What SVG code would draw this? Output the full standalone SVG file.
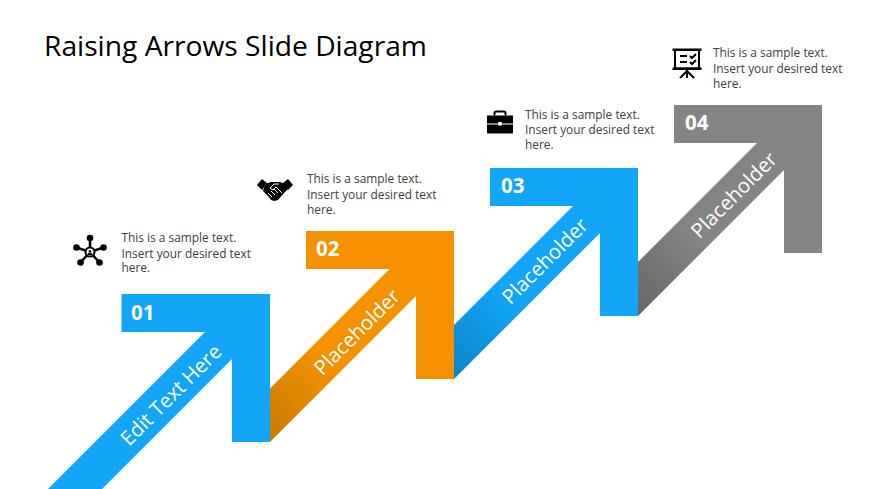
<svg xmlns="http://www.w3.org/2000/svg" width="870" height="489" viewBox="0 0 870 489">
<style>
text{font-family:"Open Sans","Noto Sans","Liberation Sans",sans-serif}
.title{font-size:28.200px;fill:#000}
.num{font-size:20.500px;font-weight:700;fill:#fff}
.lab{font-size:20.300px;fill:#fff;text-anchor:middle}
.desc{font-size:11.900px;fill:#404040}
.ic{fill:#000}
.ol{fill:none;stroke:#000;stroke-width:2}
</style>
<defs>
<linearGradient id="gO" gradientUnits="userSpaceOnUse" x1="270" y1="442" x2="340" y2="372"><stop offset="0" stop-color="#c67c00"/><stop offset="1" stop-color="#f59100"/></linearGradient>
<linearGradient id="gB" gradientUnits="userSpaceOnUse" x1="454" y1="379" x2="524" y2="309"><stop offset="0" stop-color="#0a85cc"/><stop offset="1" stop-color="#12a5f8"/></linearGradient>
<linearGradient id="gG" gradientUnits="userSpaceOnUse" x1="638" y1="316" x2="708" y2="246"><stop offset="0" stop-color="#666"/><stop offset="1" stop-color="#858585"/></linearGradient>
</defs>
<rect width="870" height="489" fill="#fff"/>
<text class="title" x="44" y="56">Raising Arrows Slide Diagram</text>
<g id="connectors"></g>
<g id="node-01">
<path d="M121.500 294H270V442H232V359L102 489H48L205 332H121.500Z" fill="#12a5f8"/>
<text class="num" x="131" y="320">01</text>
<text class="lab" transform="translate(176 400) rotate(-45)">Edit Text Here</text>
<g transform="translate(90 252)">
<g stroke="#000" stroke-width="2.500"><line x1="0" y1="0" x2="0" y2="-11"/><line x1="0" y1="0" x2="-12" y2="-4"/><line x1="0" y1="0" x2="12" y2="-4"/><line x1="0" y1="0" x2="-9" y2="10"/><line x1="0" y1="0" x2="9" y2="10"/></g>
<circle class="ic" cx="0" cy="-14" r="3.300"/><circle class="ic" cx="-13.500" cy="-4.500" r="3.300"/><circle class="ic" cx="13.500" cy="-4.500" r="3.300"/><circle class="ic" cx="-9.500" cy="10.500" r="3.300"/><circle class="ic" cx="9.500" cy="10.500" r="3.300"/>
<circle cx="0" cy="0" r="5.500" fill="#000"/><circle cx="0" cy="0" r="3.500" fill="#fff"/><circle cx="0" cy="-0.800" r="1.300" fill="#000"/><path d="M-2.500 3a2.500 2.500 0 0 1 5 0Z" fill="#000"/>
</g>
<text class="desc" x="121.500" y="242">This is a sample text.</text><text class="desc" x="121.500" y="258">Insert your desired text</text><text class="desc" x="121.500" y="272">here.</text>
</g>
<g id="node-02">
<path d="M270 388.500L389.500 269H306V231H454V379H416V296L270 442Z" fill="url(#gO)"/>
<text class="lab" transform="translate(362 337) rotate(-45)">Placeholder</text>
<text class="num" x="316" y="256">02</text>
<g transform="translate(275 190)">
<path class="ic" d="M-18 -5L-13 -11L-8 -7L-13 0Z"/><path class="ic" d="M18 -5L13 -11L8 -7L13 0Z"/>
<path class="ic" d="M-10 -6L-4 -8H5L10 -6L13 -1L9 3L3 10L-1 11L-4 10L-6 7L-12 1Z"/>
<path d="M-7 3L-3 7M-4 1L0 5M-1 -1L3 3M7 3L1 -3L-2 0L-5 -2L-1 -6H4" fill="none" stroke="#fff" stroke-width="1"/>
</g>
<text class="desc" x="307" y="183">This is a sample text.</text><text class="desc" x="307" y="199">Insert your desired text</text><text class="desc" x="307" y="214">here.</text>
</g>
<g id="node-03">
<path d="M454 325L573 206H490V168H638V316H600V233L454 379Z" fill="url(#gB)"/>
<text class="lab" transform="translate(550 266) rotate(-45)">Placeholder</text>
<text class="num" x="501" y="193">03</text>
<g transform="translate(500 122)">
<path class="ic" d="M-13 -6.500H13V10.500a1 1 0 0 1 -1 1H-12a1 1 0 0 1 -1 -1Z"/>
<path d="M-5.500 -6.500V-9a1.500 1.500 0 0 1 1.500 -1.500H4A1.500 1.500 0 0 1 5.500 -9V-6.500" fill="none" stroke="#000" stroke-width="2"/>
<rect x="-13" y="1.500" width="26" height="1" fill="#fff"/><rect x="-1.800" y="0" width="3.600" height="3.500" fill="#fff"/>
</g>
<text class="desc" x="525" y="119">This is a sample text.</text><text class="desc" x="525" y="134">Insert your desired text</text><text class="desc" x="525" y="149">here.</text>
</g>
<g id="node-04">
<path d="M638 262L757 143H674V105H822V253H784V170L638 316Z" fill="url(#gG)"/>
<text class="lab" transform="translate(739 200) rotate(-45)">Placeholder</text>
<text class="num" x="685" y="130">04</text>
<g transform="translate(687 62)">
<rect x="-14.500" y="-13.500" width="29" height="2.500" fill="#000"/>
<rect x="-12" y="-12" width="24" height="18.500" class="ol"/>
<rect x="-14.500" y="5.500" width="29" height="2.500" fill="#000"/>
<path d="M0 7V11M0 9L-7 16M0 9L7 16M0 9V16" class="ol" stroke-width="1.800"/>
<path d="M-7 -6H0M-7 0H0M3 -6L5 -4L9 -8M3 0L5 2L9 -2" class="ol" stroke-width="1.600"/>
</g>
<text class="desc" x="713" y="57">This is a sample text.</text><text class="desc" x="713" y="73">Insert your desired text</text><text class="desc" x="713" y="88">here.</text>
</g>
</svg>
